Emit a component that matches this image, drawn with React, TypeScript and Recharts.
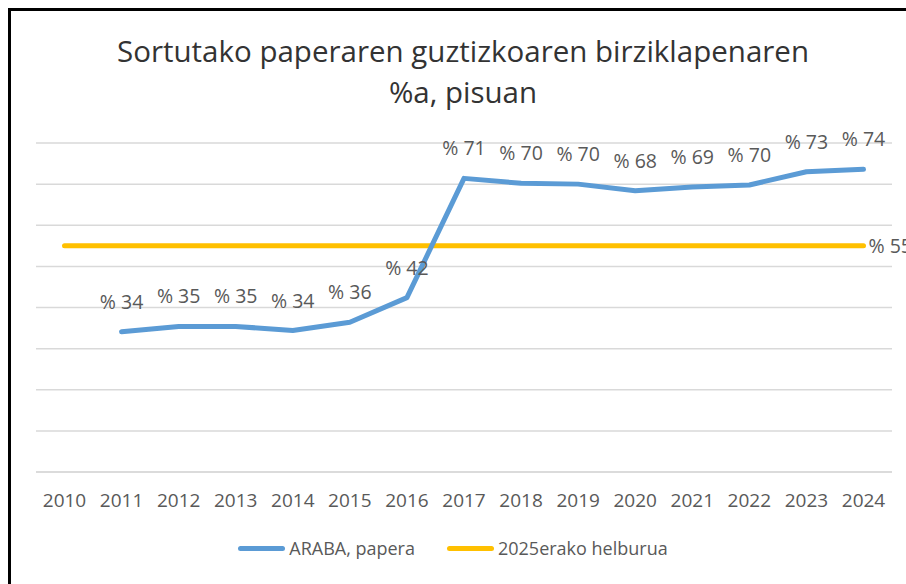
import { LineChart, Line, XAxis, YAxis, CartesianGrid, LabelList } from "recharts";

const years = [2010, 2011, 2012, 2013, 2014, 2015, 2016, 2017, 2018, 2019, 2020, 2021, 2022, 2023, 2024];
// ARABA, papera (% birziklatua) — 2010ean daturik ez
const araba = [null, 34.1, 35.4, 35.4, 34.4, 36.4, 42.4, 71.4, 70.2, 70.0, 68.4, 69.3, 69.8, 73.0, 73.6];
// 2025erako helburua
const helburua = [55, 55, 55, 55, 55, 55, 55, 55, 55, 55, 55, 55, 55, 55, 55];
const yTicks = [0, 10, 20, 30, 40, 50, 60, 70, 80];

const BLUE = "#5b9bd5";
const YELLOW = "#ffc000";
const GREY = "#595959";
const FONT = "'Open Sans', sans-serif";

const data = years.map((y, i) => ({ year: String(y), araba: araba[i], helburua: helburua[i] }));

const series = [
  { key: "araba", name: "ARABA, papera", color: BLUE },
  { key: "helburua", name: "2025erako helburua", color: YELLOW },
];

const pct = (v: number) => `% ${Math.round(v)}`;

function LastLabel(props: any) {
  const { x, y, value, index } = props;
  if (index !== data.length - 1) return null;
  return (
    <text x={x + 5} y={y} dominantBaseline="central" fill={GREY} fontSize={19.5} fontFamily={FONT}>
      {pct(value)}
    </text>
  );
}

export default function App() {
  return (
    <div style={{ position: "fixed", left: 0, top: 0, width: 906, height: 584, background: "#fff", overflow: "hidden" }}>
      <div
        style={{
          position: "absolute",
          left: 8,
          top: 8,
          width: 920,
          height: 600,
          borderLeft: "3px solid #000",
          borderTop: "3px solid #000",
          boxSizing: "border-box",
        }}
      />
      <div
        style={{
          position: "absolute",
          left: 0,
          top: 30,
          width: 926,
          textAlign: "center",
          fontFamily: FONT,
          fontSize: 29.5,
          lineHeight: "41px",
          color: "#333",
        }}
      >
        Sortutako paperaren guztizkoaren birziklapenaren
        <br />
        %a, pisuan
      </div>
      <div style={{ position: "absolute", left: 0, top: 0 }}>
        <LineChart width={906} height={584} data={data} margin={{ top: 143, right: 14, bottom: 82, left: 36 }}>
          <CartesianGrid vertical={false} stroke="#d9d9d9" strokeWidth={1.5} />
          <XAxis
            dataKey="year"
            interval={0}
            padding={{ left: 28.5, right: 28.5 }}
            tickLine={false}
            axisLine={{ stroke: "#d9d9d9", strokeWidth: 1.5 }}
            tickMargin={16}
            tick={{ fill: GREY, fontSize: 19, fontFamily: FONT }}
          />
          <YAxis hide domain={[0, 80]} ticks={yTicks} />
          <Line
            dataKey="helburua"
            stroke={YELLOW}
            strokeWidth={5}
            strokeLinecap="round"
            dot={false}
            isAnimationActive={false}
          >
            <LabelList dataKey="helburua" content={LastLabel} />
          </Line>
          <Line
            dataKey="araba"
            stroke={BLUE}
            strokeWidth={5}
            strokeLinecap="round"
            strokeLinejoin="round"
            dot={false}
            isAnimationActive={false}
          >
            <LabelList
              dataKey="araba"
              position="top"
              offset={23}
              formatter={(v: any) => pct(v)}
              fill={GREY}
              fontSize={19.5}
              fontFamily={FONT}
            />
          </Line>
        </LineChart>
      </div>
      <div
        style={{
          position: "absolute",
          left: 0,
          top: 536,
          width: 906,
          display: "flex",
          justifyContent: "center",
          gap: 32,
          fontFamily: FONT,
          fontSize: 18,
          color: GREY,
        }}
      >
        {series.map((s) => (
          <div key={s.key} style={{ display: "flex", alignItems: "center" }}>
            <span style={{ display: "inline-block", width: 47, height: 5, borderRadius: 3, background: s.color, marginRight: 4 }} />
            <span>{s.name}</span>
          </div>
        ))}
      </div>
    </div>
  );
}
